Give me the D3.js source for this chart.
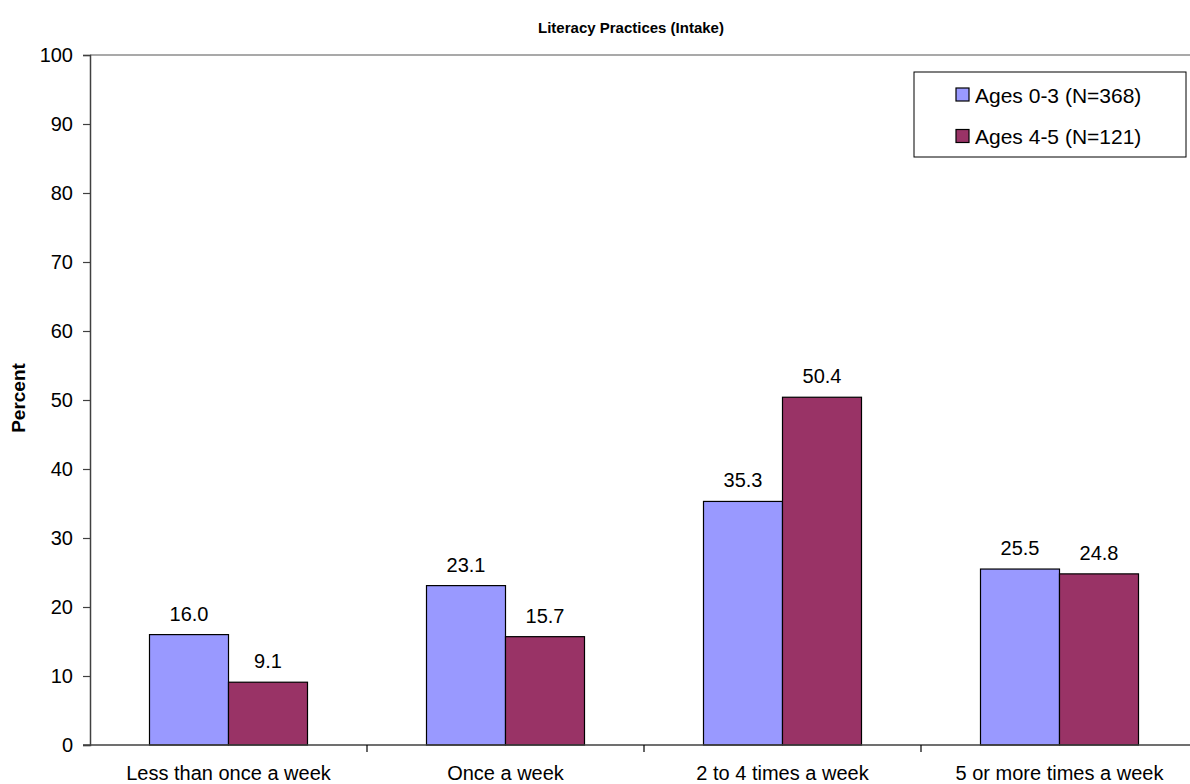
<!DOCTYPE html>
<html>
<head>
<meta charset="utf-8">
<script src="https://cdn.jsdelivr.net/npm/d3@7"></script>
<style>
  html, body { margin: 0; padding: 0; background: #fff; }
  svg { display: block; font-family: "Liberation Sans", Arial, sans-serif; }
</style>
</head>
<body>
<svg id="chart" width="1190" height="784"></svg>
<script>
// Literacy practices at intake, by age group
const categories = ["Less than once a week", "Once a week", "2 to 4 times a week", "5 or more times a week"];
const seriesNames = ["Ages 0-3 (N=368)", "Ages 4-5 (N=121)"];
const ages03 = [16.0, 23.1, 35.3, 25.5];
const ages45 = [9.1, 15.7, 50.4, 24.8];
const yTicks = [0, 10, 20, 30, 40, 50, 60, 70, 80, 90, 100];
const colors = ["#9999FF", "#993366"];

const seriesValues = [ages03, ages45];

const svg = d3.select("#chart");
const plotLeft = 90, plotRight = 1198, plotTop = 55, plotBottom = 745;

const x = d3.scaleBand().domain(categories).range([plotLeft, plotRight]).paddingInner(0).paddingOuter(0);
const groupWidth = 158;
const x1 = d3.scaleBand().domain(d3.range(seriesNames.length)).range([0, groupWidth]);
const y = d3.scaleLinear().domain([0, 100]).range([plotBottom, plotTop]);

// Top border of plot area
svg.append("line")
  .attr("x1", plotLeft).attr("x2", plotRight)
  .attr("y1", y(100)).attr("y2", y(100))
  .attr("stroke", "#8c8c8c").attr("stroke-width", 1.5);

// Bars
const groups = svg.append("g").selectAll("g")
  .data(categories)
  .join("g")
  .attr("transform", c => `translate(${x(c) + (x.bandwidth() - groupWidth) / 2},0)`);

groups.selectAll("rect")
  .data((c, i) => seriesValues.map((vals, s) => ({ s, v: vals[i] })))
  .join("rect")
  .attr("x", d => x1(d.s))
  .attr("width", x1.bandwidth())
  .attr("y", d => y(d.v))
  .attr("height", d => y(0) - y(d.v))
  .attr("fill", d => colors[d.s])
  .attr("stroke", "#000")
  .attr("stroke-width", 1.2);

groups.selectAll("text.val")
  .data((c, i) => seriesValues.map((vals, s) => ({ s, v: vals[i] })))
  .join("text")
  .attr("class", "val")
  .attr("x", d => x1(d.s) + x1.bandwidth() / 2)
  .attr("y", d => y(d.v) - 14)
  .attr("text-anchor", "middle")
  .attr("font-size", 20)
  .attr("fill", "#000")
  .text(d => d.v.toFixed(1));

// Y axis
const yAxis = svg.append("g")
  .attr("transform", `translate(${plotLeft},0)`)
  .call(d3.axisLeft(y).tickValues(yTicks).tickSize(7).tickPadding(10).tickFormat(d3.format("d")));
yAxis.select(".domain").attr("stroke", "#404040").attr("stroke-width", 1.5);
yAxis.selectAll(".tick line").attr("stroke", "#404040").attr("stroke-width", 1.2);
yAxis.selectAll(".tick text").attr("font-size", 20).attr("fill", "#000")
  .attr("font-family", "'Liberation Sans', Arial, sans-serif");

// X axis
const xAxis = svg.append("g")
  .attr("transform", `translate(0,${plotBottom})`);
xAxis.append("line")
  .attr("x1", plotLeft - 7).attr("x2", plotRight)
  .attr("y1", 0).attr("y2", 0)
  .attr("stroke", "#404040").attr("stroke-width", 1.5);
xAxis.selectAll("line.tick")
  .data(categories.slice(1))
  .join("line")
  .attr("class", "tick")
  .attr("x1", c => x(c)).attr("x2", c => x(c))
  .attr("y1", 0).attr("y2", 7)
  .attr("stroke", "#000").attr("stroke-width", 1.2);
xAxis.selectAll("text")
  .data(categories)
  .join("text")
  .attr("x", c => x(c) + x.bandwidth() / 2)
  .attr("y", 35)
  .attr("text-anchor", "middle")
  .attr("font-size", 20)
  .attr("fill", "#000")
  .text(c => c);

// Title
svg.append("text")
  .attr("x", 631).attr("y", 33)
  .attr("text-anchor", "middle")
  .attr("font-size", 15).attr("font-weight", "bold")
  .text("Literacy Practices (Intake)");

// Y axis title
svg.append("text")
  .attr("transform", `translate(25,398) rotate(-90)`)
  .attr("text-anchor", "middle")
  .attr("font-size", 19).attr("font-weight", "bold")
  .text("Percent");

// Legend
const legend = svg.append("g").attr("transform", "translate(914,72)");
legend.append("rect")
  .attr("width", 272).attr("height", 85)
  .attr("fill", "#fff").attr("stroke", "#000").attr("stroke-width", 1);
const items = legend.selectAll("g")
  .data(seriesNames)
  .join("g")
  .attr("transform", (d, i) => `translate(42,${23 + i * 41.5})`);
items.append("rect")
  .attr("x", 0).attr("y", -7)
  .attr("width", 13).attr("height", 13)
  .attr("fill", (d, i) => colors[i])
  .attr("stroke", "#000").attr("stroke-width", 1.2);
items.append("text")
  .attr("x", 19).attr("y", 7.5)
  .attr("font-size", 21)
  .text(d => d);
</script>
</body>
</html>
